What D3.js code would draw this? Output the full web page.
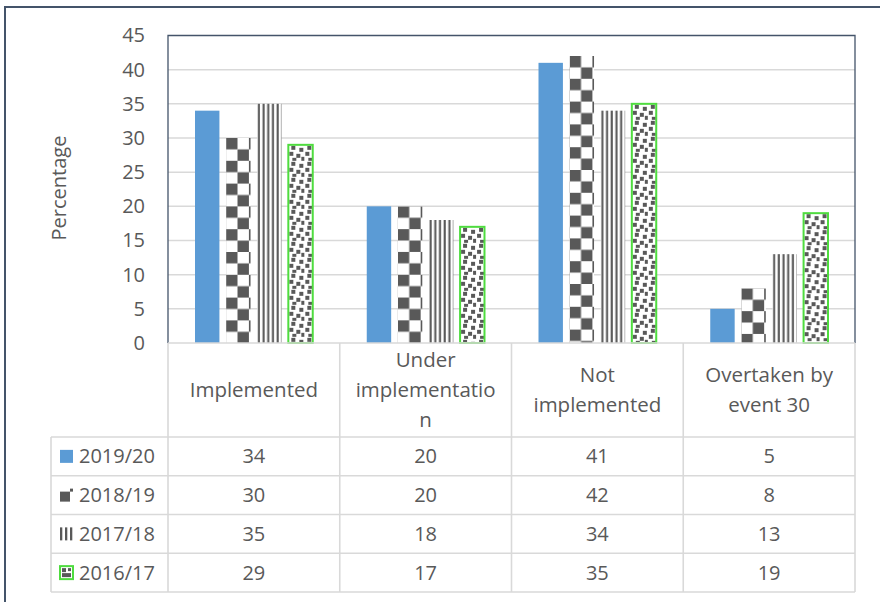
<!DOCTYPE html>
<html>
<head>
<meta charset="utf-8">
<script src="https://cdn.jsdelivr.net/npm/d3@7"></script>
<style>
  html, body { margin: 0; padding: 0; background: #fff; }
  svg { display: block; font-family: "Open Sans", sans-serif; }
</style>
</head>
<body>
<svg id="chart" width="880" height="602"></svg>
<script>
// ---- data ----
const categories = ["Implemented", "Under implementation", "Not implemented", "Overtaken by event 30"];
const headerLines = [["Implemented"], ["Under", "implementatio", "n"], ["Not", "implemented"], ["Overtaken by", "event 30"]];
const seriesNames = ["2019/20", "2018/19", "2017/18", "2016/17"];
const values2019 = [34, 20, 41, 5];
const values2018 = [30, 20, 42, 8];
const values2017 = [35, 18, 34, 13];
const values2016 = [29, 17, 35, 19];
const yTicks = [0, 5, 10, 15, 20, 25, 30, 35, 40, 45];
const yLabel = "Percentage";

const seriesValues = [values2019, values2018, values2017, values2016];
const fills = ["#5b9bd5", "url(#checker)", "url(#stripes)", "url(#confetti)"];
const strokes = [null, null, null, "#4fdc3f"];
const textColor = "#595959";
const gridColor = "#d9d9d9";
const frameColor = "#44546a";

const svg = d3.select("#chart");

// ---- fill patterns ----
const defs = svg.append("defs");
const dark = "#595959";

const checker = defs.append("pattern").attr("id", "checker")
  .attr("patternUnits", "userSpaceOnUse").attr("width", 22.8).attr("height", 22.8);
checker.append("rect").attr("width", 22.8).attr("height", 22.8).attr("fill", "#fff");
checker.append("rect").attr("x", 0).attr("y", 0).attr("width", 11.4).attr("height", 11.4).attr("fill", dark);
checker.append("rect").attr("x", 11.4).attr("y", 11.4).attr("width", 11.4).attr("height", 11.4).attr("fill", dark);

const stripes = defs.append("pattern").attr("id", "stripes")
  .attr("patternUnits", "userSpaceOnUse").attr("width", 4.7).attr("height", 10);
stripes.append("rect").attr("width", 4.7).attr("height", 10).attr("fill", "#fff");
stripes.append("rect").attr("x", 0.6).attr("width", 2.1).attr("height", 10).attr("fill", dark);

const confetti = defs.append("pattern").attr("id", "confetti")
  .attr("patternUnits", "userSpaceOnUse").attr("width", 16).attr("height", 16);
confetti.append("rect").attr("width", 16).attr("height", 16).attr("fill", "#fff");
[[3, 1], [11, 3], [1, 7], [8, 9], [13, 12], [4, 13]].forEach(([px, py]) => {
  confetti.append("rect").attr("x", px).attr("y", py).attr("width", 4).attr("height", 4).attr("fill", dark);
});

// ---- scales ----
const plotLeft = 168, plotRight = 855, plotTop = 35.5, plotBottom = 343;
const x0 = d3.scaleBand().domain(categories).range([plotLeft, plotRight]);
const groupPad = 27;
const x1 = d3.scaleBand().domain(seriesNames)
  .range([groupPad, x0.bandwidth() - groupPad]).paddingInner(0.215);
const y = d3.scaleLinear().domain([0, 45]).range([plotBottom, plotTop]);

// ---- outer chart frame ----
svg.append("path")
  .attr("d", `M5,602 V7 H880`)
  .attr("fill", "none").attr("stroke", frameColor).attr("stroke-width", 2);

// ---- gridlines ----
svg.append("g")
  .selectAll("line")
  .data(yTicks.filter(t => t > 0 && t < 45))
  .join("line")
  .attr("x1", plotLeft).attr("x2", plotRight)
  .attr("y1", d => y(d)).attr("y2", d => y(d))
  .attr("stroke", gridColor).attr("stroke-width", 1.5);

// ---- y axis labels ----
const yAxis = svg.append("g")
  .attr("transform", `translate(${plotLeft},0)`)
  .call(d3.axisLeft(y).tickValues(yTicks).tickSize(0).tickPadding(23));
yAxis.select(".domain").remove();
yAxis.selectAll("text")
  .attr("fill", textColor)
  .style("font-size", "20px")
  .style("font-family", "'Open Sans', sans-serif");

svg.append("text")
  .attr("transform", `translate(58,188) rotate(-90)`)
  .attr("text-anchor", "middle")
  .attr("dominant-baseline", "central")
  .attr("fill", textColor)
  .style("font-size", "20px")
  .text(yLabel);

// ---- bars ----
const barData = [];
categories.forEach((c, ci) => {
  seriesNames.forEach((s, si) => {
    barData.push({ c, s, si, v: seriesValues[si][ci] });
  });
});

const bars = svg.append("g").selectAll("g")
  .data(barData)
  .join("g")
  .attr("transform", d => `translate(${x0(d.c) + x1(d.s)},${y(d.v)})`);

bars.append("rect")
  .attr("x", 0).attr("y", 0)
  .attr("width", x1.bandwidth())
  .attr("height", d => y(0) - y(d.v))
  .attr("fill", d => fills[d.si])
  .attr("stroke", d => strokes[d.si] || "none")
  .attr("stroke-width", 2);

// ---- plot area frame ----
svg.append("path")
  .attr("d", `M${plotLeft},${plotBottom} V${plotTop} H${plotRight} V${plotBottom}`)
  .attr("fill", "none").attr("stroke", frameColor).attr("stroke-width", 1.3);

// ---- data table ----
const headerBottom = 437, tableBottom = 592, legendLeft = 51;
const rowY = d3.scaleBand().domain(seriesNames).range([headerBottom, tableBottom]);
const table = svg.append("g").attr("stroke", gridColor).attr("stroke-width", 1.6);

// horizontal rules
table.append("line").attr("x1", plotLeft).attr("x2", plotRight).attr("y1", plotBottom).attr("y2", plotBottom);
[headerBottom, ...seriesNames.map(s => rowY(s) + rowY.bandwidth())].forEach(yy => {
  table.append("line").attr("x1", legendLeft).attr("x2", plotRight).attr("y1", yy).attr("y2", yy);
});
// vertical rules
table.append("line").attr("x1", legendLeft).attr("x2", legendLeft).attr("y1", headerBottom).attr("y2", tableBottom);
[...categories.map(c => x0(c)), plotRight].forEach(xx => {
  table.append("line").attr("x1", xx).attr("x2", xx).attr("y1", plotBottom).attr("y2", tableBottom);
});

// header labels
const lineH = 30;
const headerMid = (plotBottom + headerBottom) / 2;
categories.forEach((c, ci) => {
  const lines = headerLines[ci];
  const t = svg.append("text")
    .attr("text-anchor", "middle")
    .attr("fill", textColor)
    .style("font-size", "20.5px");
  lines.forEach((ln, li) => {
    t.append("tspan")
      .attr("x", x0(c) + x0.bandwidth() / 2)
      .attr("y", headerMid + (li - (lines.length - 1) / 2) * lineH)
      .attr("dy", "0.35em")
      .text(ln);
  });
});

// value cells
seriesNames.forEach((s, si) => {
  const cy = rowY(s) + rowY.bandwidth() / 2;
  categories.forEach((c, ci) => {
    svg.append("text")
      .attr("x", x0(c) + x0.bandwidth() / 2)
      .attr("y", cy).attr("dy", "0.35em")
      .attr("text-anchor", "middle")
      .attr("fill", textColor)
      .style("font-size", "20px")
      .text(seriesValues[si][ci]);
  });
});

// legend keys + series names
const keySize = 13, keyX = 60;
seriesNames.forEach((s, si) => {
  const cy = rowY(s) + rowY.bandwidth() / 2;
  const key = svg.append("g").attr("transform", `translate(${keyX},${cy - keySize / 2})`);
  if (si === 0) {
    key.append("rect").attr("width", keySize).attr("height", keySize).attr("fill", fills[0]);
  } else if (si === 1) {
    key.append("rect").attr("y", 3).attr("width", 10).attr("height", 10).attr("fill", dark);
    key.append("rect").attr("x", 10).attr("y", 0).attr("width", 3).attr("height", 3).attr("fill", dark);
  } else if (si === 2) {
    [0, 5, 10].forEach(dx => key.append("rect").attr("x", dx).attr("width", 2.3).attr("height", keySize).attr("fill", dark));
  } else {
    key.append("rect").attr("x", 0).attr("y", 0).attr("width", keySize).attr("height", keySize)
      .attr("fill", "#fff").attr("stroke", strokes[3]).attr("stroke-width", 2);
    key.append("rect").attr("x", 2).attr("y", 2).attr("width", 4).attr("height", 4).attr("fill", dark);
    key.append("rect").attr("x", 8).attr("y", 2).attr("width", 3).attr("height", 3).attr("fill", dark);
    key.append("rect").attr("x", 2).attr("y", 7).attr("width", 9).attr("height", 4).attr("fill", dark);
  }
  svg.append("text")
    .attr("x", keyX + keySize + 6)
    .attr("y", cy).attr("dy", "0.35em")
    .attr("fill", textColor)
    .style("font-size", "20px")
    .text(s);
});
</script>
</body>
</html>
